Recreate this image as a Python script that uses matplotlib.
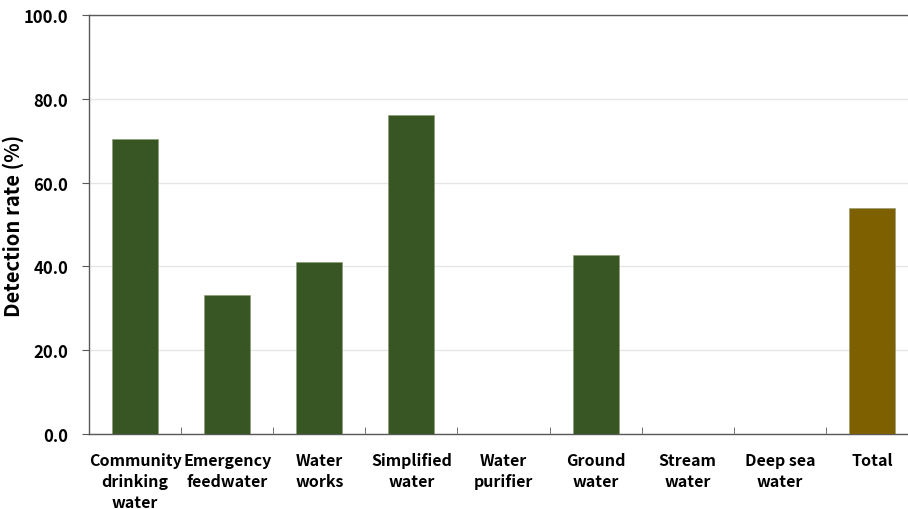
import matplotlib
matplotlib.use('Agg')
import matplotlib.pyplot as plt

plt.rcParams['font.family'] = ['Noto Sans CJK KR', 'DejaVu Sans']

categories = ['Community\ndrinking\nwater', 'Emergency\nfeedwater', 'Water\nworks',
              'Simplified\nwater', 'Water\npurifier', 'Ground\nwater', 'Stream\nwater',
              'Deep sea\nwater', 'Total']
rates = [70.4, 33.2, 41.1, 76.1, 0.0, 42.7, 0.0, 0.0, 53.9]
colors = ['#375623'] * 8 + ['#7F6000']

fig = plt.figure(figsize=(9.08, 5.10), dpi=100)
ax = fig.add_axes([89 / 908, 75 / 510, 829 / 908, 419 / 510])

x = list(range(len(categories)))
ax.bar(x, rates, width=0.5, color=colors, edgecolor='#8a9a70', linewidth=0.4, zorder=3)

ax.set_xlim(-0.5, len(categories) - 0.5)
ax.set_ylim(0, 100)
ax.set_yticks([0, 20, 40, 60, 80, 100])
ax.set_yticklabels(['%.1f' % v for v in [0, 20, 40, 60, 80, 100]])
ax.yaxis.grid(True, color='#e6e6e6', linewidth=1.0, zorder=0)

# category boundary ticks on x axis
ax.set_xticks([i + 0.5 for i in x[:-1]], minor=True)
ax.set_xticks(x)
ax.set_xticklabels(categories, fontweight='bold', fontsize=11.5, linespacing=1.4)
ax.tick_params(axis='x', which='major', length=0, pad=13)
ax.tick_params(axis='x', which='minor', length=5, direction='in', color='#595959')
ax.tick_params(axis='y', length=5, color='#595959', labelsize=12, pad=10)
for lab in ax.get_yticklabels():
    lab.set_fontweight('bold')

for side in ['left', 'bottom', 'top']:
    ax.spines[side].set_color('#595959')
    ax.spines[side].set_linewidth(1.0)
ax.spines['right'].set_visible(False)

ax.set_ylabel('Detection rate (%)', fontsize=14.5, fontweight='bold', labelpad=0)

fig.savefig('out.png', dpi=100)
